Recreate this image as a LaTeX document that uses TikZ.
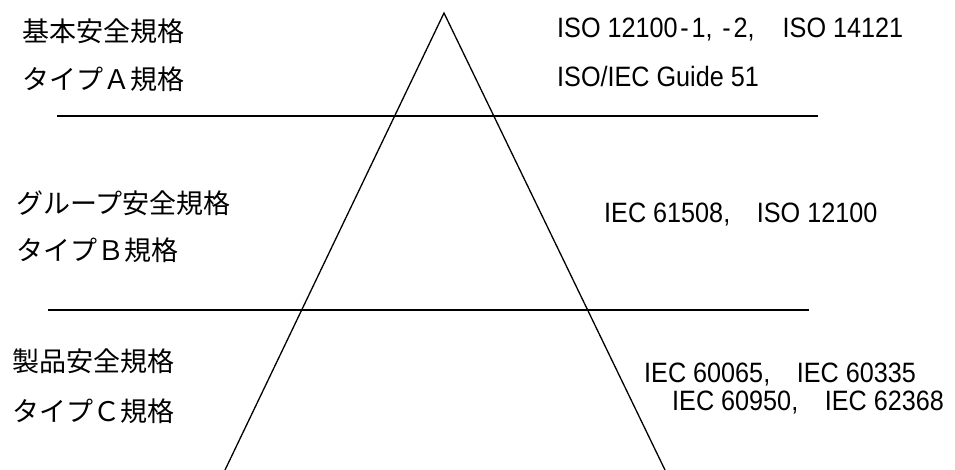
\documentclass[tikz,border=0pt]{standalone}
\usepackage{fontspec}
\newfontfamily\jpfont{Noto Sans CJK JP}
\newfontfamily\stdfont[FakeStretch=0.9]{Liberation Sans}
% half-width cells for punctuation
\newcommand\hwdash{\makebox[0.5em]{-}}
\newcommand\hwcomma{\makebox[0.5em][l]{,}}
\begin{document}
\begin{tikzpicture}[x=1pt,y=-1pt,
  tier/.style={line width=2pt},
  leg/.style={line width=1.3pt},
  cat/.style={anchor=west,inner sep=0pt,font=\jpfont\fontsize{27}{27}\selectfont},
  std/.style={anchor=base west,inner sep=0pt,font=\stdfont\fontsize{28}{28}\selectfont}]
\useasboundingbox (0,0) rectangle (955,470);

% pyramid
\coordinate (apex) at (444,13);
\coordinate (bl) at (225,470);
\coordinate (br) at (665,470);
\draw[leg] (bl) -- (apex) -- (br);

% tier separators
\coordinate (s1a) at (57,116);
\coordinate (s1b) at (818,116);
\coordinate (s2a) at (48,310);
\coordinate (s2b) at (809,310);
\draw[tier] (s1a) -- (s1b);
\draw[tier] (s2a) -- (s2b);

% tier names
\node[cat] (a1) at (22,31) {基本安全規格};
\node[cat] (a2) at (22,79) {タイプＡ規格};
\node[cat] (b1) at (16,203) {グループ安全規格};
\node[cat] (b2) at (16,250) {タイプＢ規格};
\node[cat] (c1) at (12,361) {製品安全規格};
\node[cat] (c2) at (12,411) {タイプＣ規格};

% standards per tier
\node[std] (sa1) at (557,38) {ISO 12100\hwdash 1\hwcomma\hwdash 2\hwcomma\hspace{0.75em}ISO 14121};
\node[std] (sa2) at (557,87) {ISO/IEC Guide 51};
\node[std] (sb1) at (604,223) {IEC 61508,\hspace{0.95em}ISO 12100};
\node[std] (sc1) at (644,382) {IEC 60065,\hspace{0.95em}IEC 60335};
\node[std] (sc2) at (672,410) {IEC 60950,\hspace{0.95em}IEC 62368};
\end{tikzpicture}
\end{document}
